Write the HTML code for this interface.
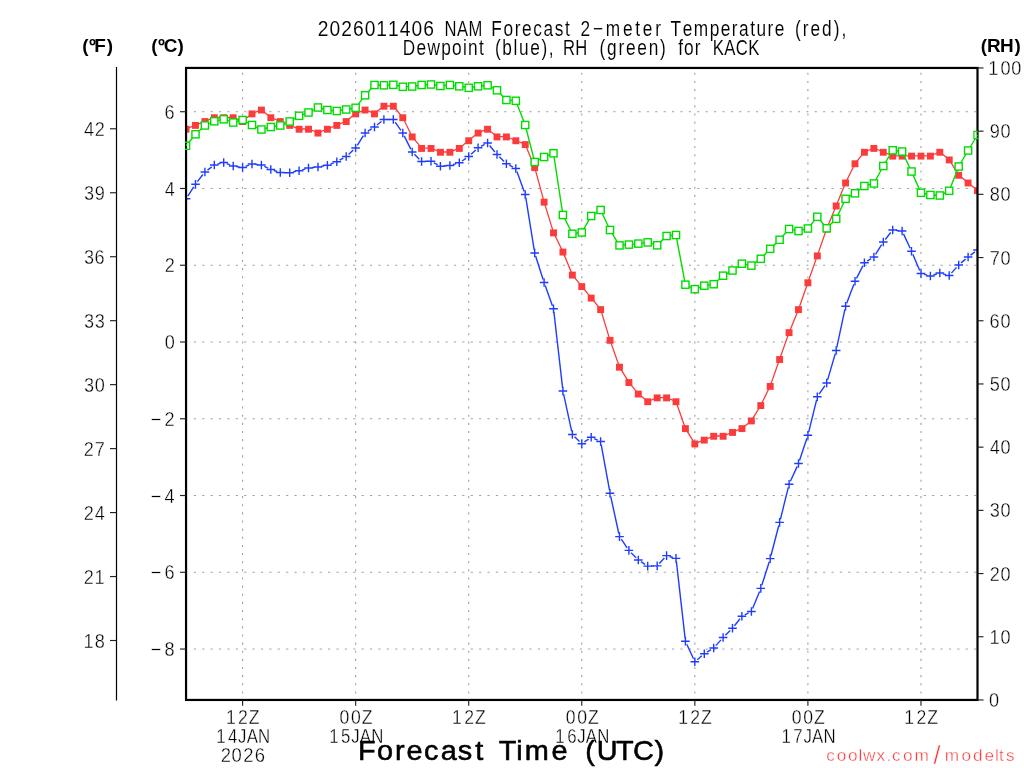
<!DOCTYPE html>
<html><head><meta charset="utf-8"><title>NAM Forecast KACK</title>
<style>html,body{margin:0;padding:0;background:#fff}svg{display:block;will-change:transform}text{font-family:"Liberation Sans",sans-serif;fill:#000}</style></head><body>
<svg width="1024" height="768" viewBox="0 0 1024 768">
<rect width="1024" height="768" fill="#fff"/>
<defs><clipPath id="cp"><rect x="186.05" y="67.95" width="791.45" height="632.0"/></clipPath><clipPath id="cq"><rect x="184.95000000000002" y="66.85000000000001" width="794.0500000000001" height="634.2"/></clipPath></defs>
<g stroke="#a0a0a0" fill="none">
<line x1="193.8" y1="649.04" x2="977.5" y2="649.04" stroke-width="1" stroke-dasharray="2.2 6.19"/>
<line x1="193.8" y1="572.28" x2="977.5" y2="572.28" stroke-width="1" stroke-dasharray="2.2 6.19"/>
<line x1="193.8" y1="495.52" x2="977.5" y2="495.52" stroke-width="1" stroke-dasharray="2.2 6.19"/>
<line x1="193.8" y1="418.76" x2="977.5" y2="418.76" stroke-width="1" stroke-dasharray="2.2 6.19"/>
<line x1="193.8" y1="342.00" x2="977.5" y2="342.00" stroke-width="1" stroke-dasharray="2.2 6.19"/>
<line x1="193.8" y1="265.24" x2="977.5" y2="265.24" stroke-width="1" stroke-dasharray="2.2 6.19"/>
<line x1="193.8" y1="188.48" x2="977.5" y2="188.48" stroke-width="1" stroke-dasharray="2.2 6.19"/>
<line x1="193.8" y1="111.72" x2="977.5" y2="111.72" stroke-width="1" stroke-dasharray="2.2 6.19"/>
<line x1="242.58" y1="693.5" x2="242.58" y2="67.95" stroke-width="1.1" stroke-dasharray="2.1 6.04"/>
<line x1="355.65" y1="693.5" x2="355.65" y2="67.95" stroke-width="1.1" stroke-dasharray="2.1 6.04"/>
<line x1="468.71" y1="693.5" x2="468.71" y2="67.95" stroke-width="1.1" stroke-dasharray="2.1 6.04"/>
<line x1="581.78" y1="693.5" x2="581.78" y2="67.95" stroke-width="1.1" stroke-dasharray="2.1 6.04"/>
<line x1="694.84" y1="693.5" x2="694.84" y2="67.95" stroke-width="1.1" stroke-dasharray="2.1 6.04"/>
<line x1="807.90" y1="693.5" x2="807.90" y2="67.95" stroke-width="1.1" stroke-dasharray="2.1 6.04"/>
<line x1="920.97" y1="693.5" x2="920.97" y2="67.95" stroke-width="1.1" stroke-dasharray="2.1 6.04"/>
</g>
<g clip-path="url(#cp)">
<polyline points="186.1,129.0 195.5,125.2 204.9,121.3 214.3,117.5 223.7,117.5 233.2,117.5 242.6,121.3 252.0,113.6 261.4,109.8 270.8,117.5 280.3,121.3 289.7,125.2 299.1,129.0 308.5,129.0 318.0,132.8 327.4,129.0 336.8,125.2 346.2,121.3 355.6,113.6 365.1,109.8 374.5,113.6 383.9,106.0 393.3,106.0 402.8,117.5 412.2,136.7 421.6,148.2 431.0,148.2 440.4,152.0 449.9,152.0 459.3,148.2 468.7,140.5 478.1,132.8 487.6,129.0 497.0,136.7 506.4,136.7 515.8,140.5 525.2,144.3 534.7,167.4 544.1,201.9 553.5,232.6 562.9,251.8 572.4,274.8 581.8,286.3 591.2,297.9 600.6,309.4 610.0,340.1 619.5,366.9 628.9,382.3 638.3,393.8 647.7,401.5 657.2,397.7 666.6,397.7 676.0,401.5 685.4,428.4 694.8,443.7 704.3,439.9 713.7,436.0 723.1,436.0 732.5,432.2 741.9,428.4 751.4,420.7 760.8,405.3 770.2,386.1 779.6,359.3 789.1,332.4 798.5,309.4 807.9,282.5 817.3,255.6 826.7,228.8 836.2,205.8 845.6,182.7 855.0,163.5 864.4,152.0 873.9,148.2 883.3,152.0 892.7,155.9 902.1,155.9 911.5,155.9 921.0,155.9 930.4,155.9 939.8,152.0 949.2,159.7 958.7,175.0 968.1,182.7 977.5,190.4" fill="none" stroke="rgb(250,60,60)" stroke-width="1.3"/>
<g fill="rgb(250,60,60)">
<rect x="182.60" y="125.79" width="6.9" height="6.9"/>
<rect x="192.02" y="121.95" width="6.9" height="6.9"/>
<rect x="201.44" y="118.11" width="6.9" height="6.9"/>
<rect x="210.87" y="114.28" width="6.9" height="6.9"/>
<rect x="220.29" y="114.28" width="6.9" height="6.9"/>
<rect x="229.71" y="114.28" width="6.9" height="6.9"/>
<rect x="239.13" y="118.11" width="6.9" height="6.9"/>
<rect x="248.55" y="110.44" width="6.9" height="6.9"/>
<rect x="257.98" y="106.60" width="6.9" height="6.9"/>
<rect x="267.40" y="114.28" width="6.9" height="6.9"/>
<rect x="276.82" y="118.11" width="6.9" height="6.9"/>
<rect x="286.24" y="121.95" width="6.9" height="6.9"/>
<rect x="295.66" y="125.79" width="6.9" height="6.9"/>
<rect x="305.09" y="125.79" width="6.9" height="6.9"/>
<rect x="314.51" y="129.63" width="6.9" height="6.9"/>
<rect x="323.93" y="125.79" width="6.9" height="6.9"/>
<rect x="333.35" y="121.95" width="6.9" height="6.9"/>
<rect x="342.77" y="118.11" width="6.9" height="6.9"/>
<rect x="352.20" y="110.44" width="6.9" height="6.9"/>
<rect x="361.62" y="106.60" width="6.9" height="6.9"/>
<rect x="371.04" y="110.44" width="6.9" height="6.9"/>
<rect x="380.46" y="102.76" width="6.9" height="6.9"/>
<rect x="389.88" y="102.76" width="6.9" height="6.9"/>
<rect x="399.31" y="114.28" width="6.9" height="6.9"/>
<rect x="408.73" y="133.47" width="6.9" height="6.9"/>
<rect x="418.15" y="144.98" width="6.9" height="6.9"/>
<rect x="427.57" y="144.98" width="6.9" height="6.9"/>
<rect x="436.99" y="148.82" width="6.9" height="6.9"/>
<rect x="446.42" y="148.82" width="6.9" height="6.9"/>
<rect x="455.84" y="144.98" width="6.9" height="6.9"/>
<rect x="465.26" y="137.31" width="6.9" height="6.9"/>
<rect x="474.68" y="129.63" width="6.9" height="6.9"/>
<rect x="484.10" y="125.79" width="6.9" height="6.9"/>
<rect x="493.53" y="133.47" width="6.9" height="6.9"/>
<rect x="502.95" y="133.47" width="6.9" height="6.9"/>
<rect x="512.37" y="137.31" width="6.9" height="6.9"/>
<rect x="521.79" y="141.14" width="6.9" height="6.9"/>
<rect x="531.21" y="164.17" width="6.9" height="6.9"/>
<rect x="540.64" y="198.71" width="6.9" height="6.9"/>
<rect x="550.06" y="229.42" width="6.9" height="6.9"/>
<rect x="559.48" y="248.61" width="6.9" height="6.9"/>
<rect x="568.90" y="271.63" width="6.9" height="6.9"/>
<rect x="578.33" y="283.15" width="6.9" height="6.9"/>
<rect x="587.75" y="294.66" width="6.9" height="6.9"/>
<rect x="597.17" y="306.18" width="6.9" height="6.9"/>
<rect x="606.59" y="336.88" width="6.9" height="6.9"/>
<rect x="616.01" y="363.75" width="6.9" height="6.9"/>
<rect x="625.44" y="379.10" width="6.9" height="6.9"/>
<rect x="634.86" y="390.61" width="6.9" height="6.9"/>
<rect x="644.28" y="398.29" width="6.9" height="6.9"/>
<rect x="653.70" y="394.45" width="6.9" height="6.9"/>
<rect x="663.12" y="394.45" width="6.9" height="6.9"/>
<rect x="672.55" y="398.29" width="6.9" height="6.9"/>
<rect x="681.97" y="425.16" width="6.9" height="6.9"/>
<rect x="691.39" y="440.51" width="6.9" height="6.9"/>
<rect x="700.81" y="436.67" width="6.9" height="6.9"/>
<rect x="710.23" y="432.83" width="6.9" height="6.9"/>
<rect x="719.66" y="432.83" width="6.9" height="6.9"/>
<rect x="729.08" y="428.99" width="6.9" height="6.9"/>
<rect x="738.50" y="425.16" width="6.9" height="6.9"/>
<rect x="747.92" y="417.48" width="6.9" height="6.9"/>
<rect x="757.34" y="402.13" width="6.9" height="6.9"/>
<rect x="766.77" y="382.94" width="6.9" height="6.9"/>
<rect x="776.19" y="356.07" width="6.9" height="6.9"/>
<rect x="785.61" y="329.20" width="6.9" height="6.9"/>
<rect x="795.03" y="306.18" width="6.9" height="6.9"/>
<rect x="804.45" y="279.31" width="6.9" height="6.9"/>
<rect x="813.88" y="252.44" width="6.9" height="6.9"/>
<rect x="823.30" y="225.58" width="6.9" height="6.9"/>
<rect x="832.72" y="202.55" width="6.9" height="6.9"/>
<rect x="842.14" y="179.52" width="6.9" height="6.9"/>
<rect x="851.56" y="160.33" width="6.9" height="6.9"/>
<rect x="860.99" y="148.82" width="6.9" height="6.9"/>
<rect x="870.41" y="144.98" width="6.9" height="6.9"/>
<rect x="879.83" y="148.82" width="6.9" height="6.9"/>
<rect x="889.25" y="152.66" width="6.9" height="6.9"/>
<rect x="898.67" y="152.66" width="6.9" height="6.9"/>
<rect x="908.10" y="152.66" width="6.9" height="6.9"/>
<rect x="917.52" y="152.66" width="6.9" height="6.9"/>
<rect x="926.94" y="152.66" width="6.9" height="6.9"/>
<rect x="936.36" y="148.82" width="6.9" height="6.9"/>
<rect x="945.78" y="156.50" width="6.9" height="6.9"/>
<rect x="955.21" y="171.85" width="6.9" height="6.9"/>
<rect x="964.63" y="179.52" width="6.9" height="6.9"/>
<rect x="974.05" y="187.20" width="6.9" height="6.9"/>
</g>
<g stroke="rgb(30,60,255)" stroke-width="1.4" fill="none">
<line x1="187.8" y1="196.1" x2="193.7" y2="186.9"/>
<line x1="197.4" y1="181.7" x2="202.9" y2="174.5"/>
<line x1="207.5" y1="170.1" x2="211.7" y2="166.9"/>
<line x1="217.4" y1="164.2" x2="220.6" y2="163.3"/>
<line x1="226.7" y1="163.6" x2="230.2" y2="164.9"/>
<line x1="236.3" y1="166.5" x2="239.4" y2="167.0"/>
<line x1="245.6" y1="166.4" x2="249.0" y2="165.1"/>
<line x1="255.2" y1="164.3" x2="258.2" y2="164.7"/>
<line x1="264.3" y1="166.4" x2="268.0" y2="168.1"/>
<line x1="273.9" y1="170.5" x2="277.2" y2="171.5"/>
<line x1="283.5" y1="172.6" x2="286.5" y2="172.7"/>
<line x1="292.8" y1="172.1" x2="296.0" y2="171.4"/>
<line x1="302.2" y1="169.9" x2="305.5" y2="168.9"/>
<line x1="311.7" y1="167.7" x2="314.8" y2="167.3"/>
<line x1="321.1" y1="166.4" x2="324.2" y2="165.8"/>
<line x1="330.4" y1="164.1" x2="333.8" y2="162.9"/>
<line x1="339.6" y1="160.2" x2="343.4" y2="158.1"/>
<line x1="348.6" y1="154.4" x2="353.3" y2="150.1"/>
<line x1="357.3" y1="145.3" x2="363.4" y2="135.7"/>
<line x1="367.8" y1="131.3" x2="371.8" y2="128.7"/>
<line x1="377.0" y1="125.0" x2="381.4" y2="121.5"/>
<line x1="387.1" y1="119.5" x2="390.1" y2="119.5"/>
<line x1="395.2" y1="122.1" x2="400.9" y2="130.4"/>
<line x1="404.2" y1="135.9" x2="410.8" y2="149.1"/>
<line x1="414.4" y1="154.3" x2="419.3" y2="159.2"/>
<line x1="424.8" y1="161.4" x2="427.8" y2="161.3"/>
<line x1="433.8" y1="162.8" x2="437.6" y2="164.7"/>
<line x1="443.6" y1="166.0" x2="446.7" y2="165.8"/>
<line x1="452.9" y1="164.6" x2="456.2" y2="163.6"/>
<line x1="462.0" y1="161.0" x2="466.0" y2="158.3"/>
<line x1="471.1" y1="154.3" x2="475.8" y2="149.9"/>
<line x1="481.0" y1="146.3" x2="484.7" y2="144.4"/>
<line x1="489.6" y1="145.5" x2="494.9" y2="152.0"/>
<line x1="499.3" y1="156.7" x2="504.1" y2="161.5"/>
<line x1="509.3" y1="165.2" x2="513.0" y2="167.1"/>
<line x1="516.9" y1="171.5" x2="524.2" y2="191.5"/>
<line x1="525.8" y1="197.7" x2="534.2" y2="249.8"/>
<line x1="535.6" y1="256.0" x2="543.1" y2="279.5"/>
<line x1="545.2" y1="285.5" x2="552.4" y2="305.7"/>
<line x1="553.9" y1="311.9" x2="562.6" y2="387.8"/>
<line x1="563.6" y1="394.1" x2="571.7" y2="431.4"/>
<line x1="574.6" y1="436.7" x2="579.5" y2="441.5"/>
<line x1="584.4" y1="441.9" x2="588.6" y2="439.1"/>
<line x1="594.1" y1="438.6" x2="597.7" y2="440.2"/>
<line x1="601.2" y1="444.6" x2="609.5" y2="490.1"/>
<line x1="610.7" y1="496.4" x2="618.8" y2="533.5"/>
<line x1="621.3" y1="539.2" x2="627.1" y2="547.8"/>
<line x1="631.1" y1="552.7" x2="636.1" y2="557.7"/>
<line x1="641.0" y1="561.7" x2="645.0" y2="564.4"/>
<line x1="650.9" y1="566.0" x2="654.0" y2="566.0"/>
<line x1="659.3" y1="563.5" x2="664.4" y2="558.0"/>
<line x1="669.6" y1="556.5" x2="672.9" y2="557.5"/>
<line x1="676.4" y1="561.6" x2="685.1" y2="638.1"/>
<line x1="686.8" y1="644.2" x2="693.5" y2="658.8"/>
<line x1="697.3" y1="659.7" x2="701.8" y2="655.8"/>
<line x1="707.0" y1="652.1" x2="711.0" y2="649.7"/>
<line x1="715.8" y1="645.6" x2="721.0" y2="639.9"/>
<line x1="725.4" y1="635.3" x2="730.2" y2="630.5"/>
<line x1="734.5" y1="625.7" x2="740.0" y2="618.8"/>
<line x1="744.8" y1="614.8" x2="748.5" y2="612.9"/>
<line x1="752.6" y1="608.5" x2="759.6" y2="591.4"/>
<line x1="761.8" y1="585.3" x2="769.3" y2="561.7"/>
<line x1="771.0" y1="555.5" x2="778.8" y2="525.5"/>
<line x1="780.4" y1="519.3" x2="788.3" y2="487.4"/>
<line x1="790.4" y1="481.3" x2="797.2" y2="466.4"/>
<line x1="799.5" y1="460.5" x2="806.9" y2="438.3"/>
<line x1="808.7" y1="432.1" x2="816.6" y2="399.9"/>
<line x1="819.1" y1="394.1" x2="824.9" y2="385.6"/>
<line x1="827.6" y1="379.9" x2="835.3" y2="353.6"/>
<line x1="836.8" y1="347.4" x2="844.9" y2="309.4"/>
<line x1="846.7" y1="303.3" x2="853.9" y2="284.2"/>
<line x1="856.5" y1="278.4" x2="863.0" y2="265.6"/>
<line x1="867.2" y1="261.1" x2="871.1" y2="258.7"/>
<line x1="875.6" y1="254.3" x2="881.6" y2="244.7"/>
<line x1="885.3" y1="239.5" x2="890.7" y2="232.5"/>
<line x1="895.9" y1="230.3" x2="898.9" y2="230.7"/>
<line x1="903.5" y1="233.9" x2="910.2" y2="248.3"/>
<line x1="912.8" y1="254.2" x2="919.7" y2="270.6"/>
<line x1="924.1" y1="274.3" x2="927.3" y2="275.2"/>
<line x1="933.4" y1="275.0" x2="936.8" y2="274.0"/>
<line x1="942.9" y1="273.8" x2="946.1" y2="274.7"/>
<line x1="951.4" y1="273.1" x2="956.5" y2="267.4"/>
<line x1="961.1" y1="262.9" x2="965.6" y2="259.1"/>
<line x1="970.6" y1="255.1" x2="974.9" y2="251.9"/>
<path d="M181.8 198.8h8.6M186.1 194.4v8.6"/>
<path d="M191.2 184.2h8.6M195.5 179.9v8.6"/>
<path d="M200.6 172.0h8.6M204.9 167.7v8.6"/>
<path d="M210.0 165.0h8.6M214.3 160.7v8.6"/>
<path d="M219.4 162.5h8.6M223.7 158.2v8.6"/>
<path d="M228.9 166.0h8.6M233.2 161.7v8.6"/>
<path d="M238.3 167.5h8.6M242.6 163.2v8.6"/>
<path d="M247.7 164.0h8.6M252.0 159.7v8.6"/>
<path d="M257.1 165.0h8.6M261.4 160.7v8.6"/>
<path d="M266.5 169.5h8.6M270.8 165.2v8.6"/>
<path d="M276.0 172.5h8.6M280.3 168.2v8.6"/>
<path d="M285.4 172.8h8.6M289.7 168.4v8.6"/>
<path d="M294.8 170.8h8.6M299.1 166.4v8.6"/>
<path d="M304.2 168.0h8.6M308.5 163.7v8.6"/>
<path d="M313.7 167.0h8.6M318.0 162.7v8.6"/>
<path d="M323.1 165.2h8.6M327.4 160.9v8.6"/>
<path d="M332.5 161.8h8.6M336.8 157.4v8.6"/>
<path d="M341.9 156.5h8.6M346.2 152.2v8.6"/>
<path d="M351.3 148.0h8.6M355.6 143.7v8.6"/>
<path d="M360.8 133.0h8.6M365.1 128.7v8.6"/>
<path d="M370.2 127.0h8.6M374.5 122.7v8.6"/>
<path d="M379.6 119.5h8.6M383.9 115.2v8.6"/>
<path d="M389.0 119.5h8.6M393.3 115.2v8.6"/>
<path d="M398.5 133.0h8.6M402.8 128.7v8.6"/>
<path d="M407.9 152.0h8.6M412.2 147.7v8.6"/>
<path d="M417.3 161.5h8.6M421.6 157.2v8.6"/>
<path d="M426.7 161.2h8.6M431.0 156.9v8.6"/>
<path d="M436.1 166.2h8.6M440.4 161.9v8.6"/>
<path d="M445.6 165.5h8.6M449.9 161.2v8.6"/>
<path d="M455.0 162.8h8.6M459.3 158.4v8.6"/>
<path d="M464.4 156.5h8.6M468.7 152.2v8.6"/>
<path d="M473.8 147.8h8.6M478.1 143.4v8.6"/>
<path d="M483.3 143.0h8.6M487.6 138.7v8.6"/>
<path d="M492.7 154.5h8.6M497.0 150.2v8.6"/>
<path d="M502.1 163.8h8.6M506.4 159.4v8.6"/>
<path d="M511.5 168.5h8.6M515.8 164.2v8.6"/>
<path d="M520.9 194.5h8.6M525.2 190.2v8.6"/>
<path d="M530.4 253.0h8.6M534.7 248.7v8.6"/>
<path d="M539.8 282.5h8.6M544.1 278.2v8.6"/>
<path d="M549.2 308.8h8.6M553.5 304.4v8.6"/>
<path d="M558.6 391.0h8.6M562.9 386.7v8.6"/>
<path d="M568.1 434.5h8.6M572.4 430.2v8.6"/>
<path d="M577.5 443.8h8.6M581.8 439.4v8.6"/>
<path d="M586.9 437.2h8.6M591.2 432.9v8.6"/>
<path d="M596.3 441.5h8.6M600.6 437.2v8.6"/>
<path d="M605.7 493.2h8.6M610.0 488.9v8.6"/>
<path d="M615.2 536.6h8.6M619.5 532.3v8.6"/>
<path d="M624.6 550.4h8.6M628.9 546.1v8.6"/>
<path d="M634.0 560.0h8.6M638.3 555.7v8.6"/>
<path d="M643.4 566.1h8.6M647.7 561.8v8.6"/>
<path d="M652.9 565.9h8.6M657.2 561.6v8.6"/>
<path d="M662.3 555.6h8.6M666.6 551.3v8.6"/>
<path d="M671.7 558.4h8.6M676.0 554.1v8.6"/>
<path d="M681.1 641.2h8.6M685.4 637.0v8.6"/>
<path d="M690.5 661.8h8.6M694.8 657.5v8.6"/>
<path d="M700.0 653.8h8.6M704.3 649.5v8.6"/>
<path d="M709.4 648.0h8.6M713.7 643.7v8.6"/>
<path d="M718.8 637.5h8.6M723.1 633.2v8.6"/>
<path d="M728.2 628.2h8.6M732.5 624.0v8.6"/>
<path d="M737.6 616.2h8.6M741.9 612.0v8.6"/>
<path d="M747.1 611.5h8.6M751.4 607.2v8.6"/>
<path d="M756.5 588.4h8.6M760.8 584.1v8.6"/>
<path d="M765.9 558.6h8.6M770.2 554.3v8.6"/>
<path d="M775.3 522.4h8.6M779.6 518.1v8.6"/>
<path d="M784.8 484.2h8.6M789.1 479.9v8.6"/>
<path d="M794.2 463.5h8.6M798.5 459.2v8.6"/>
<path d="M803.6 435.2h8.6M807.9 430.9v8.6"/>
<path d="M813.0 396.8h8.6M817.3 392.4v8.6"/>
<path d="M822.4 383.0h8.6M826.7 378.7v8.6"/>
<path d="M831.9 350.5h8.6M836.2 346.2v8.6"/>
<path d="M841.3 306.2h8.6M845.6 301.9v8.6"/>
<path d="M850.7 281.2h8.6M855.0 276.9v8.6"/>
<path d="M860.1 262.8h8.6M864.4 258.4v8.6"/>
<path d="M869.6 257.0h8.6M873.9 252.7v8.6"/>
<path d="M879.0 242.0h8.6M883.3 237.7v8.6"/>
<path d="M888.4 230.0h8.6M892.7 225.7v8.6"/>
<path d="M897.8 231.0h8.6M902.1 226.7v8.6"/>
<path d="M907.2 251.2h8.6M911.5 246.9v8.6"/>
<path d="M916.7 273.5h8.6M921.0 269.2v8.6"/>
<path d="M926.1 276.0h8.6M930.4 271.7v8.6"/>
<path d="M935.5 273.0h8.6M939.8 268.7v8.6"/>
<path d="M944.9 275.5h8.6M949.2 271.2v8.6"/>
<path d="M954.4 265.0h8.6M958.7 260.7v8.6"/>
<path d="M963.8 257.0h8.6M968.1 252.7v8.6"/>
<path d="M973.2 250.0h8.6M977.5 245.7v8.6"/>
</g>
</g>
<rect x="186.05" y="67.95" width="791.45" height="632.0" fill="none" stroke="#000" stroke-width="2.2"/>
<g clip-path="url(#cq)">
<polyline points="186.1,145.8 195.5,134.2 204.9,125.5 214.3,121.2 223.7,119.2 233.2,122.5 242.6,120.0 252.0,125.0 261.4,129.5 270.8,127.0 280.3,125.5 289.7,121.5 299.1,115.8 308.5,112.5 318.0,107.5 327.4,110.0 336.8,111.0 346.2,109.5 355.6,107.8 365.1,95.2 374.5,85.0 383.9,85.2 393.3,84.8 402.8,86.8 412.2,86.5 421.6,85.0 431.0,84.5 440.4,86.0 449.9,85.0 459.3,86.2 468.7,87.8 478.1,86.2 487.6,85.2 497.0,90.2 506.4,100.0 515.8,100.8 525.2,125.0 534.7,162.0 544.1,157.0 553.5,153.2 562.9,215.0 572.4,233.8 581.8,232.5 591.2,216.0 600.6,210.0 610.0,230.0 619.5,245.4 628.9,244.6 638.3,243.6 647.7,242.4 657.2,245.2 666.6,236.0 676.0,235.0 685.4,284.8 694.8,289.2 704.3,285.8 713.7,284.2 723.1,275.8 732.5,270.5 741.9,263.8 751.4,265.6 760.8,258.8 770.2,248.8 779.6,239.8 789.1,229.0 798.5,231.0 807.9,228.5 817.3,216.8 826.7,228.2 836.2,218.8 845.6,198.8 855.0,193.2 864.4,186.0 873.9,183.5 883.3,166.0 892.7,150.2 902.1,151.5 911.5,171.5 921.0,192.8 930.4,195.0 939.8,195.5 949.2,190.8 958.7,166.5 968.1,150.5 977.5,135.0" fill="none" stroke="rgb(0,220,0)" stroke-width="1.4"/>
<g fill="#fff" stroke="rgb(0,220,0)" stroke-width="1.4">
<path d="M182.6 142.2h7v7h-7" fill="none"/><rect x="187.2" y="142.9" width="1.7" height="5.6" stroke="none"/>
<rect x="191.9" y="130.7" width="7.2" height="7.2"/>
<rect x="201.3" y="121.9" width="7.2" height="7.2"/>
<rect x="210.7" y="117.7" width="7.2" height="7.2"/>
<rect x="220.1" y="115.7" width="7.2" height="7.2"/>
<rect x="229.6" y="118.9" width="7.2" height="7.2"/>
<rect x="239.0" y="116.4" width="7.2" height="7.2"/>
<rect x="248.4" y="121.4" width="7.2" height="7.2"/>
<rect x="257.8" y="125.9" width="7.2" height="7.2"/>
<rect x="267.2" y="123.4" width="7.2" height="7.2"/>
<rect x="276.7" y="121.9" width="7.2" height="7.2"/>
<rect x="286.1" y="117.9" width="7.2" height="7.2"/>
<rect x="295.5" y="112.2" width="7.2" height="7.2"/>
<rect x="304.9" y="108.9" width="7.2" height="7.2"/>
<rect x="314.4" y="103.9" width="7.2" height="7.2"/>
<rect x="323.8" y="106.4" width="7.2" height="7.2"/>
<rect x="333.2" y="107.4" width="7.2" height="7.2"/>
<rect x="342.6" y="105.9" width="7.2" height="7.2"/>
<rect x="352.0" y="104.2" width="7.2" height="7.2"/>
<rect x="361.5" y="91.7" width="7.2" height="7.2"/>
<rect x="370.9" y="81.4" width="7.2" height="7.2"/>
<rect x="380.3" y="81.7" width="7.2" height="7.2"/>
<rect x="389.7" y="81.2" width="7.2" height="7.2"/>
<rect x="399.2" y="83.2" width="7.2" height="7.2"/>
<rect x="408.6" y="82.9" width="7.2" height="7.2"/>
<rect x="418.0" y="81.4" width="7.2" height="7.2"/>
<rect x="427.4" y="80.9" width="7.2" height="7.2"/>
<rect x="436.8" y="82.4" width="7.2" height="7.2"/>
<rect x="446.3" y="81.4" width="7.2" height="7.2"/>
<rect x="455.7" y="82.7" width="7.2" height="7.2"/>
<rect x="465.1" y="84.2" width="7.2" height="7.2"/>
<rect x="474.5" y="82.7" width="7.2" height="7.2"/>
<rect x="484.0" y="81.7" width="7.2" height="7.2"/>
<rect x="493.4" y="86.7" width="7.2" height="7.2"/>
<rect x="502.8" y="96.4" width="7.2" height="7.2"/>
<rect x="512.2" y="97.2" width="7.2" height="7.2"/>
<rect x="521.6" y="121.4" width="7.2" height="7.2"/>
<rect x="531.1" y="158.4" width="7.2" height="7.2"/>
<rect x="540.5" y="153.4" width="7.2" height="7.2"/>
<rect x="549.9" y="149.7" width="7.2" height="7.2"/>
<rect x="559.3" y="211.4" width="7.2" height="7.2"/>
<rect x="568.8" y="230.2" width="7.2" height="7.2"/>
<rect x="578.2" y="228.9" width="7.2" height="7.2"/>
<rect x="587.6" y="212.4" width="7.2" height="7.2"/>
<rect x="597.0" y="206.4" width="7.2" height="7.2"/>
<rect x="606.4" y="226.4" width="7.2" height="7.2"/>
<rect x="615.9" y="241.8" width="7.2" height="7.2"/>
<rect x="625.3" y="241.0" width="7.2" height="7.2"/>
<rect x="634.7" y="240.0" width="7.2" height="7.2"/>
<rect x="644.1" y="238.8" width="7.2" height="7.2"/>
<rect x="653.6" y="241.7" width="7.2" height="7.2"/>
<rect x="663.0" y="232.4" width="7.2" height="7.2"/>
<rect x="672.4" y="231.4" width="7.2" height="7.2"/>
<rect x="681.8" y="281.1" width="7.2" height="7.2"/>
<rect x="691.2" y="285.6" width="7.2" height="7.2"/>
<rect x="700.7" y="282.1" width="7.2" height="7.2"/>
<rect x="710.1" y="280.6" width="7.2" height="7.2"/>
<rect x="719.5" y="272.1" width="7.2" height="7.2"/>
<rect x="728.9" y="266.9" width="7.2" height="7.2"/>
<rect x="738.3" y="260.1" width="7.2" height="7.2"/>
<rect x="747.8" y="262.0" width="7.2" height="7.2"/>
<rect x="757.2" y="255.2" width="7.2" height="7.2"/>
<rect x="766.6" y="245.2" width="7.2" height="7.2"/>
<rect x="776.0" y="236.2" width="7.2" height="7.2"/>
<rect x="785.5" y="225.4" width="7.2" height="7.2"/>
<rect x="794.9" y="227.4" width="7.2" height="7.2"/>
<rect x="804.3" y="224.9" width="7.2" height="7.2"/>
<rect x="813.7" y="213.2" width="7.2" height="7.2"/>
<rect x="823.1" y="224.7" width="7.2" height="7.2"/>
<rect x="832.6" y="215.2" width="7.2" height="7.2"/>
<rect x="842.0" y="195.2" width="7.2" height="7.2"/>
<rect x="851.4" y="189.7" width="7.2" height="7.2"/>
<rect x="860.8" y="182.4" width="7.2" height="7.2"/>
<rect x="870.3" y="179.9" width="7.2" height="7.2"/>
<rect x="879.7" y="162.4" width="7.2" height="7.2"/>
<rect x="889.1" y="146.7" width="7.2" height="7.2"/>
<rect x="898.5" y="147.9" width="7.2" height="7.2"/>
<rect x="907.9" y="167.9" width="7.2" height="7.2"/>
<rect x="917.4" y="189.2" width="7.2" height="7.2"/>
<rect x="926.8" y="191.4" width="7.2" height="7.2"/>
<rect x="936.2" y="191.9" width="7.2" height="7.2"/>
<rect x="945.6" y="187.2" width="7.2" height="7.2"/>
<rect x="955.1" y="162.9" width="7.2" height="7.2"/>
<rect x="964.5" y="146.9" width="7.2" height="7.2"/>
<path d="M981.0 131.5h-7v7h7" fill="none"/><rect x="974.7" y="132.2" width="1.7" height="5.6" stroke="none"/>
</g></g>
<line x1="116.5" y1="67" x2="116.5" y2="700.5" stroke="#000" stroke-width="1.2"/>
<g stroke="#222" stroke-width="1.15">
<line x1="110" y1="640.51" x2="116.5" y2="640.51"/>
<line x1="110" y1="576.54" x2="116.5" y2="576.54"/>
<line x1="110" y1="512.58" x2="116.5" y2="512.58"/>
<line x1="110" y1="448.61" x2="116.5" y2="448.61"/>
<line x1="110" y1="384.64" x2="116.5" y2="384.64"/>
<line x1="110" y1="320.68" x2="116.5" y2="320.68"/>
<line x1="110" y1="256.71" x2="116.5" y2="256.71"/>
<line x1="110" y1="192.74" x2="116.5" y2="192.74"/>
<line x1="110" y1="128.78" x2="116.5" y2="128.78"/>
<line x1="180" y1="649.04" x2="186.05" y2="649.04"/>
<line x1="180" y1="572.28" x2="186.05" y2="572.28"/>
<line x1="180" y1="495.52" x2="186.05" y2="495.52"/>
<line x1="180" y1="418.76" x2="186.05" y2="418.76"/>
<line x1="180" y1="342.00" x2="186.05" y2="342.00"/>
<line x1="180" y1="265.24" x2="186.05" y2="265.24"/>
<line x1="180" y1="188.48" x2="186.05" y2="188.48"/>
<line x1="180" y1="111.72" x2="186.05" y2="111.72"/>
<line x1="977.5" y1="699.95" x2="983.5" y2="699.95"/>
<line x1="977.5" y1="636.75" x2="983.5" y2="636.75"/>
<line x1="977.5" y1="573.55" x2="983.5" y2="573.55"/>
<line x1="977.5" y1="510.35" x2="983.5" y2="510.35"/>
<line x1="977.5" y1="447.15" x2="983.5" y2="447.15"/>
<line x1="977.5" y1="383.95" x2="983.5" y2="383.95"/>
<line x1="977.5" y1="320.75" x2="983.5" y2="320.75"/>
<line x1="977.5" y1="257.55" x2="983.5" y2="257.55"/>
<line x1="977.5" y1="194.35" x2="983.5" y2="194.35"/>
<line x1="977.5" y1="131.15" x2="983.5" y2="131.15"/>
<line x1="977.5" y1="67.95" x2="983.5" y2="67.95"/>
<line x1="242.58" y1="699.95" x2="242.58" y2="705.7"/>
<line x1="355.65" y1="699.95" x2="355.65" y2="705.7"/>
<line x1="468.71" y1="699.95" x2="468.71" y2="705.7"/>
<line x1="581.78" y1="699.95" x2="581.78" y2="705.7"/>
<line x1="694.84" y1="699.95" x2="694.84" y2="705.7"/>
<line x1="807.90" y1="699.95" x2="807.90" y2="705.7"/>
<line x1="920.97" y1="699.95" x2="920.97" y2="705.7"/>
</g>
<text x="90.88 102.89" y="0.00" font-size="19.7" stroke="#fff" stroke-width="0.35" stroke-linejoin="round" transform="translate(0 648.00) scale(0.92 1)">18</text>
<text x="91.15 102.62" y="0.00" font-size="19.7" stroke="#fff" stroke-width="0.35" stroke-linejoin="round" transform="translate(0 584.00) scale(0.92 1)">21</text>
<text x="91.15 102.95" y="0.00" font-size="19.7" stroke="#fff" stroke-width="0.35" stroke-linejoin="round" transform="translate(0 520.00) scale(0.92 1)">24</text>
<text x="91.15 102.88" y="0.00" font-size="19.7" stroke="#fff" stroke-width="0.35" stroke-linejoin="round" transform="translate(0 456.00) scale(0.92 1)">27</text>
<text x="91.21 102.89" y="0.00" font-size="19.7" stroke="#fff" stroke-width="0.35" stroke-linejoin="round" transform="translate(0 392.00) scale(0.92 1)">30</text>
<text x="91.21 102.95" y="0.00" font-size="19.7" stroke="#fff" stroke-width="0.35" stroke-linejoin="round" transform="translate(0 328.00) scale(0.92 1)">33</text>
<text x="91.21 102.82" y="0.00" font-size="19.7" stroke="#fff" stroke-width="0.35" stroke-linejoin="round" transform="translate(0 264.00) scale(0.92 1)">36</text>
<text x="91.21 102.90" y="0.00" font-size="19.7" stroke="#fff" stroke-width="0.35" stroke-linejoin="round" transform="translate(0 200.00) scale(0.92 1)">39</text>
<text x="91.21 102.89" y="0.00" font-size="19.7" stroke="#fff" stroke-width="0.35" stroke-linejoin="round" transform="translate(0 136.00) scale(0.92 1)">42</text>
<text x="163.81 178.76" y="0.00" font-size="19.7" stroke="#fff" stroke-width="0.35" stroke-linejoin="round" transform="translate(0 656.00) scale(0.92 1)">−8</text>
<text x="163.81 178.69" y="0.00" font-size="19.7" stroke="#fff" stroke-width="0.35" stroke-linejoin="round" transform="translate(0 579.00) scale(0.92 1)">−6</text>
<text x="163.81 178.82" y="0.00" font-size="19.7" stroke="#fff" stroke-width="0.35" stroke-linejoin="round" transform="translate(0 503.00) scale(0.92 1)">−4</text>
<text x="163.81 178.76" y="0.00" font-size="19.7" stroke="#fff" stroke-width="0.35" stroke-linejoin="round" transform="translate(0 426.00) scale(0.92 1)">−2</text>
<text x="178.98" y="0.00" font-size="19.7" stroke="#fff" stroke-width="0.35" stroke-linejoin="round" transform="translate(0 349.00) scale(0.92 1)">0</text>
<text x="178.98" y="0.00" font-size="19.7" stroke="#fff" stroke-width="0.35" stroke-linejoin="round" transform="translate(0 272.00) scale(0.92 1)">2</text>
<text x="179.04" y="0.00" font-size="19.7" stroke="#fff" stroke-width="0.35" stroke-linejoin="round" transform="translate(0 196.00) scale(0.92 1)">4</text>
<text x="178.91" y="0.00" font-size="19.7" stroke="#fff" stroke-width="0.35" stroke-linejoin="round" transform="translate(0 119.00) scale(0.92 1)">6</text>
<text x="1074.96" y="0.00" font-size="19.7" stroke="#fff" stroke-width="0.35" stroke-linejoin="round" transform="translate(0 707.00) scale(0.92 1)">0</text>
<text x="1075.45 1087.46" y="0.00" font-size="19.7" stroke="#fff" stroke-width="0.35" stroke-linejoin="round" transform="translate(0 644.00) scale(0.92 1)">10</text>
<text x="1075.72 1087.46" y="0.00" font-size="19.7" stroke="#fff" stroke-width="0.35" stroke-linejoin="round" transform="translate(0 581.00) scale(0.92 1)">20</text>
<text x="1075.78 1087.46" y="0.00" font-size="19.7" stroke="#fff" stroke-width="0.35" stroke-linejoin="round" transform="translate(0 517.00) scale(0.92 1)">30</text>
<text x="1075.78 1087.46" y="0.00" font-size="19.7" stroke="#fff" stroke-width="0.35" stroke-linejoin="round" transform="translate(0 454.00) scale(0.92 1)">40</text>
<text x="1075.74 1087.46" y="0.00" font-size="19.7" stroke="#fff" stroke-width="0.35" stroke-linejoin="round" transform="translate(0 391.00) scale(0.92 1)">50</text>
<text x="1075.65 1087.46" y="0.00" font-size="19.7" stroke="#fff" stroke-width="0.35" stroke-linejoin="round" transform="translate(0 328.00) scale(0.92 1)">60</text>
<text x="1075.71 1087.46" y="0.00" font-size="19.7" stroke="#fff" stroke-width="0.35" stroke-linejoin="round" transform="translate(0 265.00) scale(0.92 1)">70</text>
<text x="1075.72 1087.46" y="0.00" font-size="19.7" stroke="#fff" stroke-width="0.35" stroke-linejoin="round" transform="translate(0 201.00) scale(0.92 1)">80</text>
<text x="1075.72 1087.46" y="0.00" font-size="19.7" stroke="#fff" stroke-width="0.35" stroke-linejoin="round" transform="translate(0 138.00) scale(0.92 1)">90</text>
<text x="1074.25 1087.46 1099.20" y="0.00" font-size="19.7" stroke="#fff" stroke-width="0.35" stroke-linejoin="round" transform="translate(0 75.00) scale(0.92 1)">100</text>
<text x="262.72 276.78 289.29" y="0.00" font-size="20.5" stroke="#fff" stroke-width="0.35" stroke-linejoin="round" transform="translate(0 724.00) scale(0.86 1)">12Z</text>
<text x="263.63 278.12 290.39 300.82 314.77" y="0.00" font-size="20.5" stroke="#fff" stroke-width="0.35" stroke-linejoin="round" transform="translate(0 743.00) scale(0.82 1)">14JAN</text>
<text x="394.82 408.25 420.76" y="0.00" font-size="20.5" stroke="#fff" stroke-width="0.35" stroke-linejoin="round" transform="translate(0 724.00) scale(0.86 1)">00Z</text>
<text x="401.51 415.96 428.28 438.71 452.65" y="0.00" font-size="20.5" stroke="#fff" stroke-width="0.35" stroke-linejoin="round" transform="translate(0 743.00) scale(0.82 1)">15JAN</text>
<text x="525.66 539.72 552.23" y="0.00" font-size="20.5" stroke="#fff" stroke-width="0.35" stroke-linejoin="round" transform="translate(0 724.00) scale(0.86 1)">12Z</text>
<text x="657.76 671.19 683.70" y="0.00" font-size="20.5" stroke="#fff" stroke-width="0.35" stroke-linejoin="round" transform="translate(0 724.00) scale(0.86 1)">00Z</text>
<text x="677.28 691.64 704.04 714.47 728.42" y="0.00" font-size="20.5" stroke="#fff" stroke-width="0.35" stroke-linejoin="round" transform="translate(0 743.00) scale(0.82 1)">16JAN</text>
<text x="788.60 802.66 815.17" y="0.00" font-size="20.5" stroke="#fff" stroke-width="0.35" stroke-linejoin="round" transform="translate(0 724.00) scale(0.86 1)">12Z</text>
<text x="920.70 934.13 946.65" y="0.00" font-size="20.5" stroke="#fff" stroke-width="0.35" stroke-linejoin="round" transform="translate(0 724.00) scale(0.86 1)">00Z</text>
<text x="953.05 967.46 979.81 990.24 1004.18" y="0.00" font-size="20.5" stroke="#fff" stroke-width="0.35" stroke-linejoin="round" transform="translate(0 743.00) scale(0.82 1)">17JAN</text>
<text x="1051.54 1065.60 1078.12" y="0.00" font-size="20.5" stroke="#fff" stroke-width="0.35" stroke-linejoin="round" transform="translate(0 724.00) scale(0.86 1)">12Z</text>
<text x="245.22 257.28 270.22 283.10" y="0.00" font-size="20.5" stroke="#fff" stroke-width="0.35" stroke-linejoin="round" transform="translate(0 762.00) scale(0.9 1)">2026</text>
<text x="82.24 88.90 94.14 106.71" y="51.60" font-size="18.9" font-weight="bold">(ºF)</text>
<text x="151.19 158.00 163.70 177.46" y="51.60" font-size="18.9" font-weight="bold">(ºC)</text>
<text x="980.79 987.04 999.98 1014.41" y="51.60" font-size="18.9" font-weight="bold">(RH)</text>
<text x="357.12 370.26 383.41 396.56 409.71 422.86 436.01 449.16 462.30 475.45" y="0.00" font-size="21.6" stroke="#fff" stroke-width="0.1" stroke-linejoin="round" transform="translate(0 36.00) scale(0.89 1)">2026011406</text>
<text x="577.96 594.08 609.01" y="0.00" font-size="21.6" stroke="#fff" stroke-width="0.1" stroke-linejoin="round" transform="translate(0 36.00) scale(0.7693159351522342 1)">NAM</text>
<text x="614.10 629.34 643.39 652.62 666.67 679.51 693.57 706.41" y="0.00" font-size="21.6" stroke="#fff" stroke-width="0.1" stroke-linejoin="round" transform="translate(0 36.00) scale(0.8 1)">Forecast</text>
<text x="725.66 741.13 757.20 778.65 794.12 803.57 819.04" y="0.00" font-size="21.6" stroke="#fff" stroke-width="0.1" stroke-linejoin="round" transform="translate(0 36.00) scale(0.8 1)">2−meter</text>
<text x="838.26 853.33 867.21 887.07 900.95 914.82 923.88 937.76 945.63 959.51 968.57" y="0.00" font-size="21.6" stroke="#fff" stroke-width="0.1" stroke-linejoin="round" transform="translate(0 36.00) scale(0.8 1)">Temperature</text>
<text x="993.66 1003.36 1013.07 1027.59 1042.11 1051.81" y="0.00" font-size="21.6" stroke="#fff" stroke-width="0.1" stroke-linejoin="round" transform="translate(0 36.00) scale(0.8 1)">(red),</text>
<text x="503.60 520.77 534.36 551.53 565.12 578.70 585.07 598.66" y="0.00" font-size="21.6" stroke="#fff" stroke-width="0.1" stroke-linejoin="round" transform="translate(0 55.00) scale(0.8 1)">Dewpoint</text>
<text x="618.66 627.86 641.88 648.69 662.72 676.74 685.94" y="0.00" font-size="21.6" stroke="#fff" stroke-width="0.1" stroke-linejoin="round" transform="translate(0 55.00) scale(0.8 1)">(blue),</text>
<text x="731.14 747.26" y="0.00" font-size="21.6" stroke="#fff" stroke-width="0.1" stroke-linejoin="round" transform="translate(0 55.00) scale(0.769941119159573 1)">RH</text>
<text x="749.29 758.72 772.97 782.40 796.65 810.90 825.15" y="0.00" font-size="21.6" stroke="#fff" stroke-width="0.1" stroke-linejoin="round" transform="translate(0 55.00) scale(0.8 1)">(green)</text>
<text x="847.69 855.11 868.54" y="0.00" font-size="21.6" stroke="#fff" stroke-width="0.1" stroke-linejoin="round" transform="translate(0 55.00) scale(0.8 1)">for</text>
<text x="922.13 937.05 951.97 968.09" y="0.00" font-size="21.6" stroke="#fff" stroke-width="0.1" stroke-linejoin="round" transform="translate(0 55.00) scale(0.7728129168901544 1)">KACK</text>
<text x="341.00 359.09 376.16 387.24 403.74 419.72 436.05 452.64" y="0.00" font-size="27.5" stroke="#000" stroke-width="0.55" stroke-linejoin="round" transform="translate(0 760.00) scale(1.05 1)">Forecast</text>
<text x="475.13 491.62 499.87 525.19" y="0.00" font-size="27.5" stroke="#000" stroke-width="0.55" stroke-linejoin="round" transform="translate(0 760.00) scale(1.05 1)">Time</text>
<text x="557.41 568.36 586.61 602.90 623.43" y="0.00" font-size="27.5" stroke="#000" stroke-width="0.55" stroke-linejoin="round" transform="translate(0 760.00) scale(1.05 1)">(UTC)</text>
<text x="826.31 836.82 848.12 858.39 863.08 876.50 886.41 892.11 902.97 914.53 933.53 944.83 961.42 973.06 984.53 994.89 999.09 1005.92" y="761.0" font-size="17.2" style="fill:rgb(250,60,60)" stroke="#fff" stroke-width="0.35">coolwx.com<tspan font-size="25" dy="2.6">/</tspan><tspan dy="-2.6">modelts</tspan></text>
</svg></body></html>
